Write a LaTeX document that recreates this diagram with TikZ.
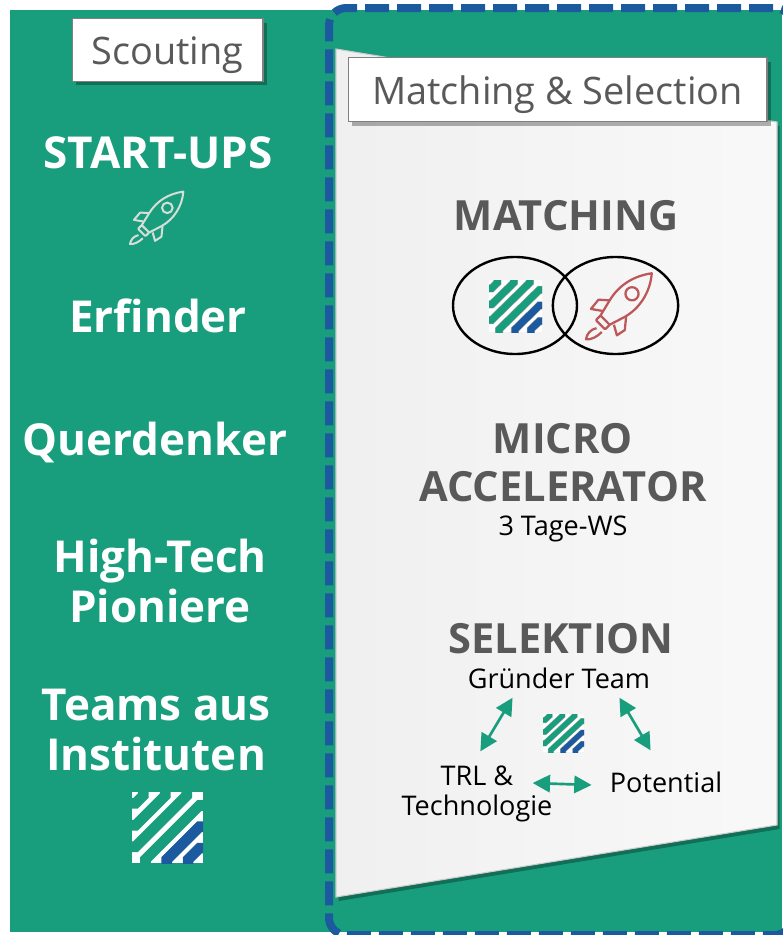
\documentclass[tikz,border=0pt]{standalone}
\usepackage{fontspec}
\setmainfont{Open Sans}
\usepackage{xcolor}
\usetikzlibrary{arrows.meta,shadows,shapes.geometric}
\definecolor{scoutgreen}{RGB}{25,158,125}
\definecolor{dashblue}{RGB}{27,90,158}
\definecolor{headgray}{RGB}{89,89,89}
\definecolor{rocketred}{RGB}{188,88,90}
\definecolor{rocketpale}{RGB}{214,222,218}

\tikzset{
    stripelogo/.pic={
        \begin{scope}
        \clip (0,0) rectangle (1,1);
        \fill[white] (0,0) rectangle (1,1);
        % bands that end on the left and top edge
        \foreach \s in {.21,.52,.82}
            \draw[scoutgreen,logo band] (-.1,1-\s+.05) -- (.05,1-\s+.05) -- (\s-.05,.95) -- (\s-.05,1.1);
        % bands that end on the bottom and right edge
        \foreach \s/\c in {1.14/scoutgreen,1.44/dashblue,1.74/dashblue}
            \draw[\c,logo band] (\s-.95,-.1) -- (\s-.95,.05) -- (.95,2-\s-.05) -- (1.1,2-\s-.05);
        \end{scope}
    },
    rocket/.pic={
        \draw[rocket line] (.22,.36) -- (.36,.59) .. controls (.5,.82) and (.72,.96) .. (1,1)
            .. controls (.98,.72) and (.82,.47) .. (.59,.34) -- (.36,.22);
        \draw[rocket line,rounded corners=.6pt] (.22,.36) -- (.36,.22) -- (.29,.15) -- (.15,.29) -- cycle;
        \draw[rocket line] (.36,.59) -- (.19,.60) -- (.075,.46) -- (.25,.43);
        \draw[rocket line] (.61,.34) -- (.59,.14) -- (.47,.06) -- (.425,.22);
        \draw[rocket line] (.16,.17) .. controls (.07,.15) and (.01,.08) .. (0,0)
            .. controls (.08,-.01) and (.17,.04) .. (.24,.11);
        \draw[rocket line] (.70,.69) circle (.1);
    },
    logo band/.style={line width=5pt},
    rocket line/.style={line width=1.2pt,line join=round}
}

\begin{document}
\begin{tikzpicture}[
    x=0.75pt, y=-0.75pt,
    labelbox/.style={draw=black!50, line width=1pt, fill=white, text=headgray, minimum height=47pt, inner sep=0pt,
        text height=24pt, text depth=2pt,
        font=\fontsize{28.4}{30}\selectfont, drop shadow={shadow xshift=3pt,shadow yshift=-3pt,opacity=.3,fill=black}},
    lefttext/.style={text=white, align=center, inner sep=0pt, font=\bfseries\fontsize{33}{37.5}\selectfont},
    headtext/.style={text=headgray, align=center, inner sep=0pt, font=\bfseries\fontsize{31.2}{36}\selectfont},
    smalltext/.style={text=black, align=center, inner sep=0pt, font=\fontsize{20.3}{23}\selectfont},
    venn/.style={draw=black, line width=1.8pt},
    arrow/.style={{Triangle[length=13pt,width=13pt]}-{Triangle[length=13pt,width=13pt]}, draw=scoutgreen, line width=2pt}
]
    \useasboundingbox (0,0) rectangle (782,935);

    % Background
    \fill[scoutgreen] (10,10) rectangle (782,932);
    \draw[dashblue, line width=6pt, rounded corners=13pt, dash pattern=on 18pt off 6pt, dash phase=6pt]
        (329,8) rectangle (792,935);

    % Panel
    \path[left color=black!6, right color=black!2.5, draw=black!20, line width=.8pt,
        drop shadow={shadow xshift=2pt,shadow yshift=-3pt,opacity=.3,fill=black}]
        (336,49) -- (777,122) -- (777,825) -- (336,897) -- cycle;

    % Labels
    \node[labelbox, minimum width=143pt] (scouting) at (167.5,50) {Scouting};
    \node[labelbox, minimum width=314pt, minimum height=48pt] (matchsel) at (557.5,89.5) {Matching \& Selection};

    % Scouting column
    \node[lefttext] (startups) at (158,153) {START-UPS};
    \node[lefttext] (erfinder) at (158,316) {Erfinder};
    \node[lefttext] (querdenker) at (155,443) {Querdenker};
    \node[lefttext] (hightech) at (160,581) {High-Tech\\Pioniere};
    \node[lefttext] (teams) at (156,730) {Teams aus\\Instituten};

    \coordinate (rocketa) at (130,244);
    \coordinate (logoa) at (132,863);
    \pic[x=40pt, y=39.3pt, rocket line/.style={draw=rocketpale, line width=1.5pt, line join=round}] at (rocketa) {rocket};
    \pic[x=53.25pt, y=53.25pt, logo band/.style={line width=8pt}] at (logoa) {stripelogo};

    % Matching
    \node[headtext] (matching) at (566,216) {MATCHING};
    \node[venn, ellipse, minimum width=93pt, minimum height=72.75pt, inner sep=0pt] (vennl) at (515,305.5) {};
    \node[venn, ellipse, minimum width=94pt, minimum height=72.75pt, inner sep=0pt] (vennr) at (615.5,305.5) {};
    \coordinate (logob) at (489,332);
    \coordinate (rocketb) at (586,339.3);
    \pic[x=39.75pt, y=39pt, logo band/.style={line width=5.2pt, preaction={draw=gray!70, line width=6pt}}] at (logob) {stripelogo};
    \pic[x=49.3pt, y=49.5pt, rocket line/.style={draw=rocketred, line width=1.7pt, line join=round}] at (rocketb) {rocket};

    % Micro accelerator
    \node[headtext] (micro) at (563,463) {MICRO\\ACCELERATOR};
    \node[smalltext] (tage) at (563,529) {3 Tage-WS};

    % Selektion
    \node[headtext] (selektion) at (561,639) {SELEKTION};
    \node[smalltext] (gruender) at (559,678) {Gründer Team};
    \node[smalltext] (trl) at (477,794) {TRL \&\\Technologie};
    \node[smalltext] (potential) at (666,782) {Potential};
    \coordinate (logoc) at (543,752);
    \pic[x=30.75pt, y=28.5pt, logo band/.style={line width=3.8pt, preaction={draw=gray!70, line width=4.5pt}}] at (logoc) {stripelogo};

    % Connections
    \draw[arrow] ([shift={(45,9)}]gruender.south west) -- ([shift={(79,-14)}]trl.north west);
    \draw[arrow] ([shift={(-31,9)}]gruender.south east) -- ([shift={(41,-21)}]potential.north west);
    \draw[arrow] ([shift={(-20,-11)}]trl.east) -- ([shift={(-18,3)}]potential.west);
\end{tikzpicture}
\end{document}
